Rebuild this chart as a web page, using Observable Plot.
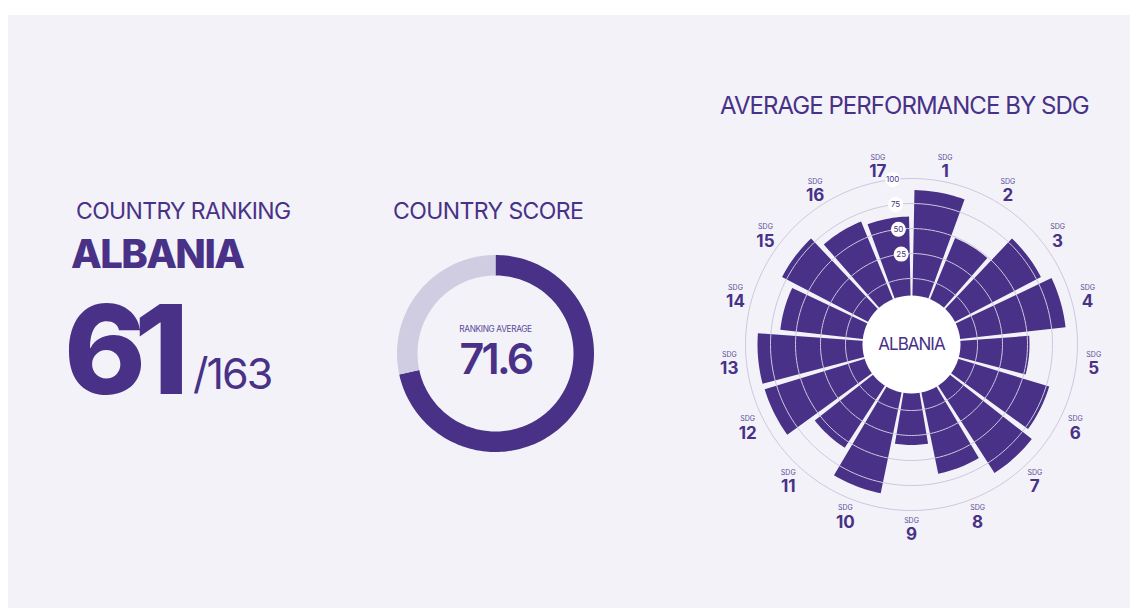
<!DOCTYPE html>
<html><head><meta charset="utf-8">
<script src="https://cdn.jsdelivr.net/npm/d3@7"></script>
<script src="https://cdn.jsdelivr.net/npm/@observablehq/plot@0.6"></script>
<style>
html,body{margin:0;padding:0;background:#fff;width:1130px;height:608px;overflow:hidden;}
#panel{position:absolute;left:8px;top:15px;width:1122px;height:593px;background:#f3f2f8;}
.t{position:absolute;white-space:nowrap;line-height:1;font-family:Inter,"Liberation Sans",sans-serif;color:#483187;}
.plot{position:absolute;}
</style></head><body>
<div id="panel"></div>
<script>
// ---- data ----
const country = "ALBANIA";
const rank = 61;
const totalCountries = 163;
const score = 71.6;
const sdgLabels = ["1","2","3","4","5","6","7","8","9","10","11","12","13","14","15","16","17"];
const sdgScores = [88.5, 49, 80, 89, 52, 78, 87, 66, 34.5, 86, 57, 87.5, 88, 66, 80, 67, 62];
const ringTicks = [0, 25, 50, 75, 100];
const ringLabels = ["25", "50", "75", "100"];

const PURPLE = "#483187";
const LIGHT = "#d0cce1";
const RING = "#cdc8df";

// ---- static text ----
function txt(s, o) {
  const d = document.createElement("div");
  d.className = "t";
  d.textContent = s;
  d.style.fontSize = o.size + "px";
  d.style.fontWeight = o.weight || 400;
  d.style.letterSpacing = (o.ls || 0) + "em";
  d.style.top = (o.baseline - 0.863 * o.size) + "px";
  d.style.left = o.left + "px";
  document.body.appendChild(d);
  return d;
}
txt("COUNTRY RANKING", {left: 76, baseline: 219.5, size: 23, ls: -0.028});
txt(country, {left: 71, baseline: 268.5, size: 40, weight: 800, ls: -0.04});
txt(String(rank), {left: 64, baseline: 394, size: 124, weight: 800, ls: -0.095});
txt("/" + totalCountries, {left: 193, baseline: 389.5, size: 43, weight: 400, ls: -0.045});
txt("COUNTRY SCORE", {left: 393, baseline: 220, size: 23, ls: -0.025});
txt("AVERAGE PERFORMANCE BY SDG", {left: 720, baseline: 114.5, size: 24, ls: -0.04});

// ---- helpers ----
const rad = a => a * Math.PI / 180;
function arcPoly(id, a0, a1, r0, r1) {
  const pts = [];
  const n = Math.max(8, Math.ceil((a1 - a0) / 1.5));
  for (let k = 0; k <= n; k++) {
    const a = rad(a0 + (a1 - a0) * k / n);
    pts.push({id, x: r1 * Math.sin(a), y: r1 * Math.cos(a)});
  }
  for (let k = n; k >= 0; k--) {
    const a = rad(a0 + (a1 - a0) * k / n);
    pts.push({id, x: r0 * Math.sin(a), y: r0 * Math.cos(a)});
  }
  return pts;
}
function spacing(chart, map) {
  chart.querySelectorAll("text").forEach(t => {
    if (map[t.textContent] != null) t.style.letterSpacing = map[t.textContent];
  });
}

// ---- donut ----
{
  const S = 220, H = S / 2;
  const end = score / 100 * 360;
  const pts = [
    ...arcPoly("score", 0, end, 78, 98.5).map(d => ({...d, part: "score"})),
    ...arcPoly("rest", end, 360, 78, 98.5).map(d => ({...d, part: "rest"}))
  ];
  const chart = Plot.plot({
    width: S, height: S, margin: 0,
    x: {domain: [-H, H], axis: null},
    y: {domain: [-H, H], axis: null},
    style: {background: "transparent", overflow: "visible"},
    marks: [
      Plot.line(pts, {x: "x", y: "y", z: "id", fill: d => d.part === "score" ? PURPLE : LIGHT, stroke: null}),
      Plot.text(["RANKING AVERAGE"], {x: () => 0, y: () => 0, text: d => d, dy: -24.5, fontSize: 8.3, fill: "#5a4a9a", fontFamily: "Inter"}),
      Plot.text([score.toFixed(1)], {x: () => 0, y: () => 0, text: d => d, dy: 7, fontSize: 43, fontWeight: 600, fill: PURPLE, fontFamily: "Inter"})
    ]
  });
  spacing(chart, {"RANKING AVERAGE": "-0.35px", [score.toFixed(1)]: "-2.8px"});
  chart.classList.add("plot");
  chart.style.left = (494.7 - H) + "px";
  chart.style.top = (353.3 - H) + "px";
  document.body.appendChild(chart);
}

// ---- radial SDG chart ----
{
  const S = 460, H = S / 2;
  const step = 360 / sdgLabels.length;
  const pad = 1.1;
  const rs = d3.scaleLinear().domain([0, 100]).range([66, 166]);
  const bars = sdgLabels.flatMap((s, i) =>
    arcPoly(s, i * step + pad, (i + 1) * step - pad, 40, rs(sdgScores[i])));
  const rings = ringTicks.flatMap(t => d3.range(0, 361, 2).map(a => ({t, x: rs(t) * Math.sin(rad(a)), y: rs(t) * Math.cos(rad(a))})));
  const labAngle = -6.5;
  const rl = ringLabels.map(s => ({s, x: rs(+s) * Math.sin(rad(labAngle)), y: rs(+s) * Math.cos(rad(labAngle))}));
  const LR = 183;
  const outer = sdgLabels.map((s, i) => {
    const a = rad((i + 0.5) * step);
    return {s, x: LR * Math.sin(a), y: LR * Math.cos(a)};
  });
  const chart = Plot.plot({
    width: S, height: S, margin: 0,
    x: {domain: [-H, H], axis: null},
    y: {domain: [-H, H], axis: null},
    style: {background: "transparent", overflow: "visible"},
    marks: [
      Plot.line(bars, {x: "x", y: "y", z: "id", fill: PURPLE, stroke: null}),
      Plot.line(rings, {x: "x", y: "y", z: "t", stroke: RING, strokeWidth: 1}),
      Plot.dot([[0, 0]], {r: 49, fill: "white", stroke: null}),
      Plot.text([country], {x: () => 0, y: () => 0, text: d => d, fontSize: 17, fill: PURPLE, fontFamily: "Inter"}),
      Plot.dot(rl, {x: "x", y: "y", r: 7.5, fill: "white", stroke: null}),
      Plot.text(rl, {x: "x", y: "y", text: "s", fontSize: 8, fill: PURPLE, fontFamily: "Inter"}),
      Plot.text(outer, {x: "x", y: "y", text: () => "SDG", dy: -7, fontSize: 7, fill: "#5a4a9a", fontFamily: "Inter"}),
      Plot.text(outer, {x: "x", y: "y", text: "s", dy: 7, fontSize: 17, fontWeight: 700, fill: PURPLE, fontFamily: "Inter"})
    ]
  });
  spacing(chart, {[country]: "-1px"});
  chart.classList.add("plot");
  chart.style.left = (910.5 - H) + "px";
  chart.style.top = (343.5 - H) + "px";
  document.body.appendChild(chart);
}
</script>
</body></html>
